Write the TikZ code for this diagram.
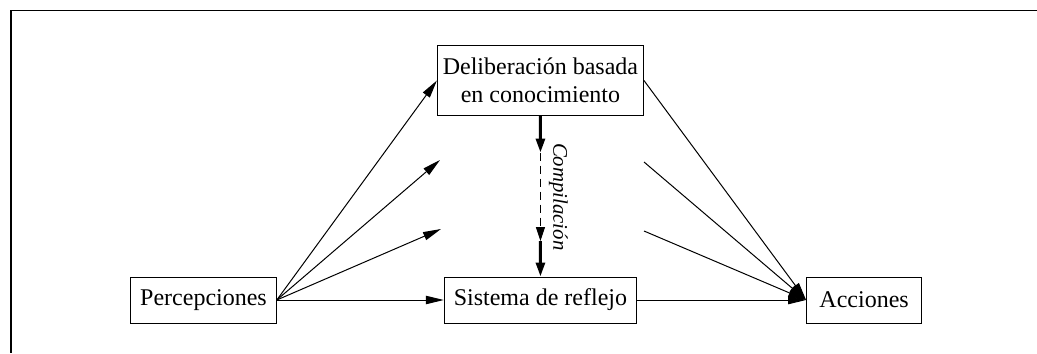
\documentclass[tikz,border=0pt]{standalone}
\usepackage{fontspec}
\setmainfont{Liberation Serif}
\usepackage{tikz}
\usetikzlibrary{positioning, arrows.meta, calc}

\begin{document}
\begin{tikzpicture}[
  x=0.5pt, y=-0.5pt,
  font=\fontsize{12}{14}\selectfont,
  box/.style={draw, line width=0.5pt, inner xsep=4.75pt,
    minimum height=23pt, align=center},
  arr/.style={-{Triangle[length=9pt, width=4.2pt]}, line width=0.5pt},
  carr/.style={-{Triangle[length=7pt, width=4.5pt]}, line width=1.5pt},
  darr/.style={-{Triangle[length=7pt, width=4.5pt]}, line width=0.5pt,
    dash pattern=on 4pt off 2.5pt},
]
  \useasboundingbox (0,0) rectangle (1037,353);
  \draw[line width=0.8pt] (1037,10.5) -- (11,10.5) -- (11,353);

  \node[box] (per) at (203.5,300) {Percepciones};
  \node[box, right=83.5pt of per] (ref) {Sistema de reflejo};
  \node[box, right=84.5pt of ref, minimum width=57.5pt] (acc) {Acciones};
  \node[box, above=80.5pt of ref, inner xsep=2.7pt, minimum height=34.5pt]
    (del) {Deliberación basada\\en conocimiento};

  % loose ends
  \coordinate (p2) at (440,160);
  \coordinate (p3) at (441,229);
  \coordinate (a2) at (644,162);
  \coordinate (a3) at (644,231);

  \draw[arr] (per.east) -- (del.west);
  \draw[arr] (per.east) -- (p2);
  \draw[arr] (per.east) -- (p3);
  \draw[arr] (per.east) -- (ref.west);

  \draw[arr] (del.east) -- (acc.west);
  \draw[arr] (a2) -- (acc.west);
  \draw[arr] (a3) -- (acc.west);
  \draw[arr] (ref.east) -- (acc.west);

  % Compilation
  \coordinate (c1) at ($(del.south)!0.23!(ref.north)$);
  \coordinate (c2) at ($(del.south)!0.78!(ref.north)$);
  \draw[carr] (del.south) -- (c1);
  \draw[darr] (c1) -- node[rotate=-90, anchor=south, inner sep=4pt,
    font=\fontsize{10.4}{12}\selectfont\itshape] {Compilación} (c2);
  \draw[carr] (c2) -- (ref.north);
\end{tikzpicture}
\end{document}
